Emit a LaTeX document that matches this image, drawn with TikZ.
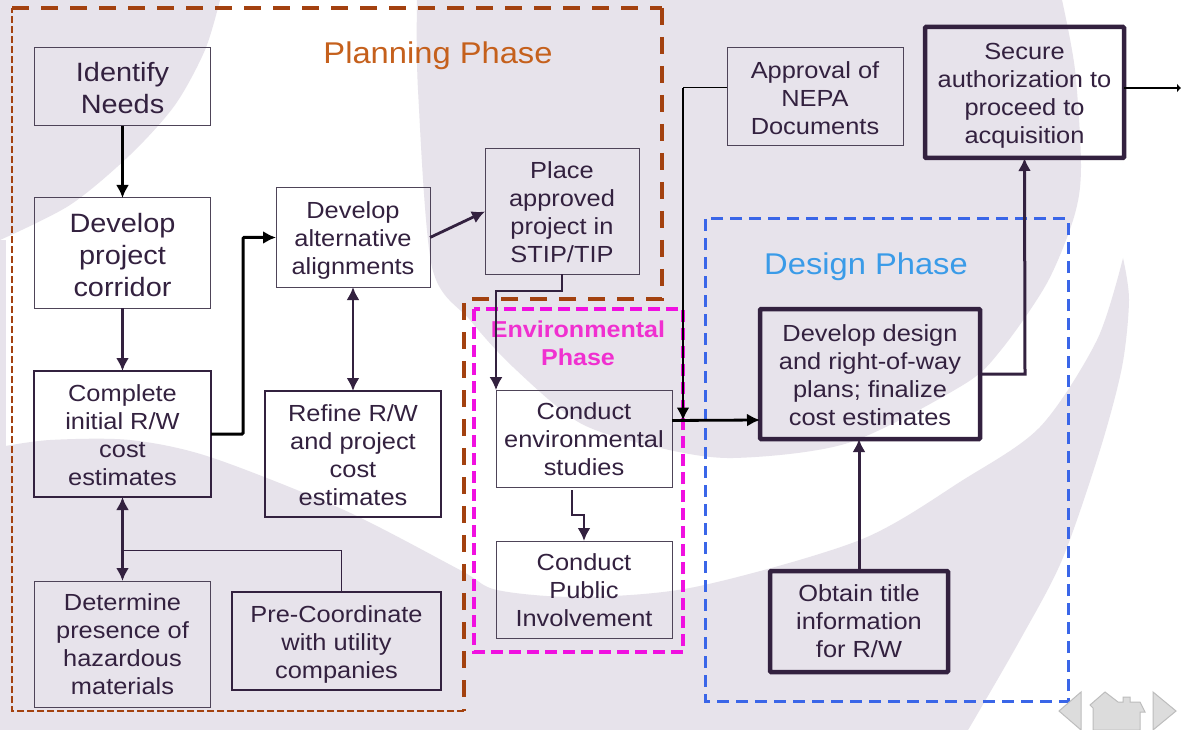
\documentclass[tikz,border=0pt]{standalone}
\usepackage{fontspec}
\setmainfont[FakeStretch=1.09]{Liberation Sans}
\usetikzlibrary{arrows.meta,calc}
\definecolor{lav}{HTML}{E7E3EB}
\definecolor{ink}{HTML}{33213F}
\definecolor{thinline}{HTML}{4E4458}
\definecolor{brownf}{HTML}{A3410F}
\definecolor{magf}{HTML}{F010E0}
\definecolor{bluef}{HTML}{3A66E8}
\definecolor{plantext}{HTML}{C5601C}
\definecolor{destext}{HTML}{3A9BE8}
\definecolor{envtext}{HTML}{F030D0}
\definecolor{navg}{HTML}{DCDCDC}
\definecolor{navl}{HTML}{BDBDBD}
\newcommand\padline[1]{\rule{0pt}{#1pt}}
\tikzset{
  basebox/.style={draw,inner sep=0pt,outer sep=0pt,align=center,text=ink,font=\fontsize{23.3}{28}\selectfont},
  thinbox/.style={basebox,draw=thinline,line width=1pt},
  midbox/.style={basebox,draw=ink,line width=2pt},
  heavybox/.style={basebox,draw=ink,line width=4.5pt,rounded corners=1pt},
  bigtext/.style={font=\fontsize{26.5}{32}\selectfont},
  tip/.style={-{Latex[length=13pt,width=13pt]}},
  twotip/.style={{Latex[length=13pt,width=13pt]}-{Latex[length=13pt,width=13pt]}},
  conn/.style={draw=ink,line width=2.8pt},
  blackconn/.style={draw=black,line width=2.8pt},
  phase/.style={inner sep=0pt,font=\fontsize{30}{34}\selectfont},
}
\begin{document}
\begin{tikzpicture}[x=1pt,y=-1pt]
\useasboundingbox (0,0) rectangle (1181,730);
% background
\fill[white] (0,0) rectangle (1181,730);
\fill[lav] plot[smooth] coordinates {(220,0)(205,50)(175,105)(130,155)(70,205)(0,240)} -- (0,0) -- cycle;
\fill[lav] plot[smooth] coordinates {(417,0)(418,90)(432,267)(470,320)(513,367)(580,423)(656,447)(733,458)(848,443)(963,385)(1001,350)(1047,283)(1074,217)(1081,167)(1075,70)(1062,0)} -- cycle;
\fill[lav] plot[smooth] coordinates {(0,447)(50,440)(130,440)(210,457)(344,510)(460,570)(497,590)(580,597)(695,587)(860,540)(963,480)(1040,427)(1097,340)(1123,258)} -- plot[smooth] coordinates {(1123,258)(1129,300)(1122,367)(1100,450)(1062,560)(1020,640)(978,713)(968,730)} -- (0,730) -- cycle;
\fill[lav] (0,240) rectangle (6,447);
% phase frames
\coordinate (ptl) at (12,8);
\coordinate (ptr) at (662,8);
\coordinate (pnr) at (662,299);
\coordinate (pnl) at (464,299);
\coordinate (pbr) at (464,711);
\coordinate (pbl) at (12,711);
\draw[brownf,line width=4pt,dash pattern=on 17pt off 12pt] (ptl) -- (ptr);
\draw[brownf,line width=4pt,dash pattern=on 17pt off 12pt] (ptr) -- (pnr) -- (pnl) -- (pbr);
\draw[brownf,line width=1.6pt,dash pattern=on 7pt off 3pt] (pbr) -- (pbl) -- (ptl);
\draw[magf,line width=3.5pt,dash pattern=on 12pt off 6pt] (474,309) rectangle (683,652);
\draw[bluef,line width=3pt,dash pattern=on 12pt off 7pt] (705,219) rectangle (1068,701);
% labels
\node[phase,text=plantext] (planlabel) at (438,56) {Planning Phase};
\node[phase,text=destext] (deslabel) at (866,267) {Design Phase};
\node[inner sep=0pt,align=center,text=envtext,font=\bfseries\fontsize{23}{28}\selectfont] (envlabel) at (578,343.5) {Environmental\\Phase};
% boxes
\node[thinbox,bigtext,minimum width=176pt,minimum height=78pt] (identify) at (122.5,87) {\padline{22}Identify\\Needs};
\node[thinbox,bigtext,minimum width=176pt,minimum height=110pt] (corridor) at (122.5,253) {\padline{24}Develop\\project\\corridor};
\node[midbox,minimum width=177pt,minimum height=126pt] (complete) at (122.5,434) {\padline{19}Complete\\initial R/W\\cost\\estimates};
\node[thinbox,minimum width=176pt,minimum height=126pt] (hazard) at (122.5,644) {Determine\\presence of\\hazardous\\materials};
\node[midbox,minimum width=209pt,minimum height=98pt] (utility) at (336.5,641) {\padline{23}Pre-Coordinate\\with utility\\companies};
\node[midbox,minimum width=176pt,minimum height=126pt] (refine) at (353,454) {\padline{19}Refine R/W\\and project\\cost\\estimates};
\node[thinbox,minimum width=154pt,minimum height=99pt] (align) at (353,237.5) {\padline{23}Develop\\alternative\\alignments};
\node[thinbox,minimum width=154pt,minimum height=125pt] (place) at (562,211.5) {\padline{19}Place\\approved\\project in\\STIP/TIP};
\node[thinbox,minimum width=176pt,minimum height=97pt] (envstudy) at (584,438.5) {\padline{19}Conduct\\environmental\\studies};
\node[thinbox,minimum width=176pt,minimum height=97pt] (public) at (584,589.5) {\padline{19}Conduct\\Public\\Involvement};
\node[thinbox,minimum width=176pt,minimum height=98pt] (nepa) at (815,97) {\padline{19}Approval of\\NEPA\\Documents};
\node[heavybox,minimum width=199pt,minimum height=131pt] (secure) at (1024.5,92.5) {\padline{23}Secure\\authorization to\\proceed to\\acquisition};
\node[heavybox,minimum width=220pt,minimum height=130pt] (design) at (870,374) {\padline{19}Develop design\\and right-of-way\\plans; finalize\\cost estimates};
\node[heavybox,minimum width=178pt,minimum height=101pt] (title) at (859,621.5) {Obtain title\\information\\for R/W};
% connectors
\coordinate (outend) at (1181,88);
\draw[blackconn,tip] (identify.south) -- (corridor.north);
\draw[conn,tip] (corridor.south) -- (complete.north);
\draw[draw=black,line width=3pt,tip,rounded corners=1pt] (complete.east) -- ++(32,0) |- (align.west);
\draw[conn,tip] (align.east) -- (place.west);
\draw[conn,twotip] (align.south) -- (refine.north);
\draw[conn,twotip] (complete.south) -- (hazard.north);
\draw[ink,line width=1pt] ([xshift=4.5pt]utility.north) -- ++(0,-42) -- ($(complete.south)+(0,53)$);
\draw[ink,line width=1.6pt,tip] (place.south) -- ++(0,17) -| ([xshift=-88pt]envstudy.north);
\draw[conn,tip] ([xshift=-12pt,yshift=-3pt]envstudy.south) -- ++(0,25) -- ++(12,0) -- (public.north);
\draw[blackconn,tip] ([yshift=18pt]envstudy.east) -- ([yshift=-46pt]design.west);
\draw[black,line width=1pt] (nepa.west) ++(0,-9) -- ++(-44,0) coordinate (nepabend);
\draw[black,line width=2.8pt,tip] (nepabend) -- ([xshift=11pt,yshift=18pt]envstudy.east);
\draw[conn,line width=3pt,tip] (design.east) -- ++(45,0) -- (secure.south);
\draw[conn,line width=3pt,tip] (title.north) -- (design.south -| title.north);
\draw[black,line width=1.5pt,-{Latex[length=4pt,width=9pt]}] ([yshift=4.5pt]secure.east) -- (outend);
% navigation icons
\filldraw[fill=navg,draw=navl,line width=1pt] (1059,711) -- (1081,692) -- (1081,730) -- cycle;
\filldraw[fill=navg,draw=navl,line width=1pt] (1090,705) -- (1105,692) -- (1118,702) -- (1123,702) -- (1123,697) -- (1130,697) -- (1130,702) -- (1140,702) -- (1145,712) -- (1140,712) -- (1140,730) -- (1093,730) -- (1093,708) -- cycle;
\filldraw[fill=navg,draw=navl,line width=1pt] (1153,692) -- (1176,711) -- (1153,730) -- cycle;
\end{tikzpicture}
\end{document}
